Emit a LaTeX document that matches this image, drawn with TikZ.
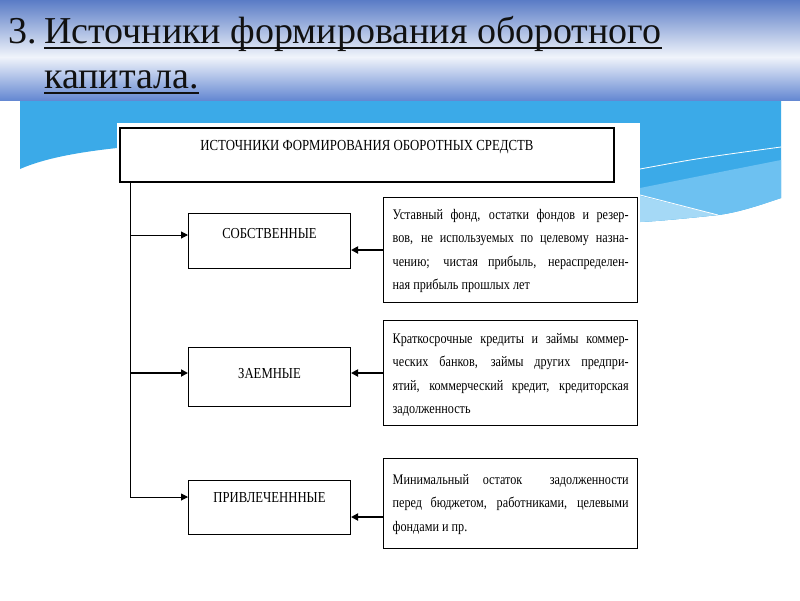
\documentclass[tikz,border=0pt]{standalone}
\usepackage{fontspec}
\setmainfont{Liberation Serif}
\usepackage{graphicx}
\usetikzlibrary{arrows.meta,calc}
\definecolor{hdrtop}{HTML}{5A7CC6}
\definecolor{hdrmid}{HTML}{F0F4FB}
\definecolor{hdrbot}{HTML}{6588D2}
\definecolor{sky}{HTML}{3BAAE8}
\definecolor{skylight}{HTML}{6DC1F1}
\definecolor{skypale}{HTML}{A5D9F6}
\definecolor{titleink}{HTML}{111111}
\newcommand\talltxt[1]{\scalebox{1}[1.2]{#1}}
\newcommand\descbox[1]{\talltxt{\parbox[t]{236pt}{\fontsize{12.2}{19.4}\selectfont\hyphenpenalty=10000\tolerance=10000\rightskip=0pt #1}}}
\def\skypath{(20,100) -- (781,100) -- (781,198) .. controls (755,207) and (735,213) .. (718,215) .. controls (690,218) and (660,221) .. (640,222) -- (400,240) -- (117,148) .. controls (80,152) and (45,158) .. (20,169) -- cycle}
\begin{document}
\begin{tikzpicture}[x=1pt,y=-1pt,
  titletext/.style={inner sep=0pt, anchor=base west, text=titleink, font=\fontsize{38}{45}\selectfont},
  topbox/.style={draw, line width=2pt, fill=white, inner sep=0pt, anchor=north west, minimum width=494pt, font=\fontsize{12.8}{15}\selectfont},
  kindbox/.style={draw, line width=1pt, fill=white, inner sep=0pt, anchor=north west, minimum width=162pt, font=\fontsize{12.7}{15}\selectfont},
  descnode/.style={draw, line width=1.3pt, fill=white, inner sep=0pt, anchor=north west, minimum width=254pt},
  thinarrow/.style={-{Triangle[length=7pt,width=7pt]}, line width=1pt},
  thickarrow/.style={-{Triangle[length=7pt,width=7pt]}, line width=1.8pt}]
\useasboundingbox (0,0) rectangle (800,600);
\fill[white] (0,0) rectangle (800,600);
% sky background
\fill[sky] \skypath;
\begin{scope}
  \clip \skypath;
  \fill[skylight] (640,188) .. controls (700,176) .. (781,160) -- (781,260) -- (640,260) -- cycle;
  \fill[skypale] (640,196) -- (718,215) -- (640,225) -- cycle;
\end{scope}
\draw[white, line width=0.8pt] (640,169) .. controls (700,158) .. (781,147);
\draw[white, line width=0.8pt] (640,195) -- (718,215);
% header band
\shade[top color=hdrtop, bottom color=hdrmid] (0,0) rectangle (800,57);
\shade[top color=hdrmid, bottom color=hdrbot] (0,57) rectangle (800,100);
% title
\node[titletext] (tnum) at (8,43) {3.};
\node[titletext] (t1) at (44,43) {Источники формирования оборотного};
\node[titletext] (t2) at (44,88) {капитала.};
\draw[titleink, line width=2pt] ($(t1.base west)+(0,5)$) -- ($(t1.base east)+(0,5)$);
\draw[titleink, line width=2pt] ($(t2.base west)+(0,5)$) -- ($(t2.base east)+(0,5)$);
% diagram panel
\fill[white] (117,123) rectangle (640,560);
\node[topbox, text height=22pt, text depth=32pt] (top) at (119,127) {\talltxt{ИСТОЧНИКИ ФОРМИРОВАНИЯ ОБОРОТНЫХ СРЕДСТВ}};
\node[kindbox, text height=25pt, text depth=30pt] (s1) at (188,213) {\talltxt{СОБСТВЕННЫЕ}};
\node[kindbox, text height=31pt, text depth=28pt] (s2) at (188,347) {\talltxt{ЗАЕМНЫЕ}};
\node[kindbox, text height=22pt, text depth=32pt] (s3) at (188,480) {\talltxt{ПРИВЛЕЧЕНННЫЕ}};
\node[descnode, text height=22pt, text depth=83pt] (d1) at (383,197) {\descbox{Уставный фонд, остатки фондов и резер-\linebreak вов, не используемых по целевому назна-\linebreak чению; чистая прибыль, нераспределен-\linebreak ная прибыль прошлых лет}};
\node[descnode, text height=23pt, text depth=82pt] (d2) at (383,320) {\descbox{Краткосрочные кредиты и займы коммер-\linebreak ческих банков, займы других предпри-\linebreak ятий, коммерческий кредит, кредиторская\linebreak задолженность}};
\node[descnode, text height=26pt, text depth=64pt] (d3) at (383,458) {\descbox{Минимальный остаток\ \ задолженности\linebreak перед бюджетом, работниками, целевыми\linebreak фондами и пр.}};
% connectors
\coordinate (j1) at (130,235);
\coordinate (j2) at (130,373);
\coordinate (j3) at (130,497);
\draw[line width=1pt] (top.south -| j1) -- (j3);
\draw[thinarrow] (j1) -- (j1 -| s1.west);
\draw[thickarrow] (j2) -- (j2 -| s2.west);
\draw[thinarrow] (j3) -- (j3 -| s3.west);
\coordinate (k1) at (383,250);
\coordinate (k2) at (383,373);
\coordinate (k3) at (383,517);
\draw[thickarrow] (k1 -| d1.west) -- (k1 -| s1.east);
\draw[thickarrow] (k2 -| d2.west) -- (k2 -| s2.east);
\draw[thickarrow] (k3 -| d3.west) -- (k3 -| s3.east);
\end{tikzpicture}
\end{document}
